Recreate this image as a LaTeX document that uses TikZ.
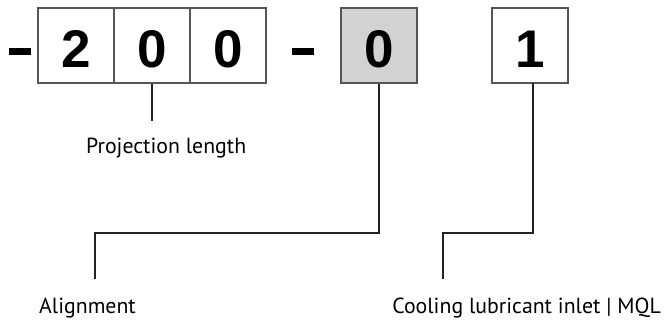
\documentclass[tikz,border=0pt]{standalone}
\usepackage{fontspec}
\setmainfont{PT Sans}
\newfontfamily\digitfont{Liberation Sans}
\definecolor{boxline}{HTML}{555555}
\definecolor{boxgray}{HTML}{D2D2D2}
\definecolor{conn}{HTML}{222222}
\begin{document}
\begin{tikzpicture}[x=1pt,y=-1pt,
  digitbox/.style={draw=boxline, line width=1.1pt, minimum width=76pt, minimum height=75pt,
    inner sep=0pt, text height=43pt, text depth=0pt, font=\digitfont\bfseries\fontsize{53}{53}\selectfont},
  graybox/.style={digitbox, fill=boxgray},
  dashbar/.style={fill=black, draw=none, minimum width=22pt, minimum height=7pt, inner sep=0pt},
  lbl/.style={anchor=base west, inner sep=0pt, font=\fontsize{21.8}{24}\selectfont},
  connector/.style={draw=conn, line width=1.2pt}]
\useasboundingbox (0,0) rectangle (664,325);
% dashes
\node[dashbar] (dashL) at (20,51.5) {};
\node[dashbar] (dashR) at (303,51.5) {};
% digit boxes
\node[digitbox] (d1) at (76,45.5) {2};
\node[digitbox] (d2) at (152,45.5) {0};
\node[digitbox] (d3) at (228,45.5) {0};
\node[graybox] (g) at (379,45.5) {0};
\node[digitbox] (b1) at (530,45.5) {1};
% labels
\node[lbl] (proj) at (86,153) {Projection length};
\node[lbl] (align) at (39,313) {Alignment};
\node[lbl, anchor=base east] (cool) at (661,313) {Cooling lubricant inlet | MQL};
% connector end points
\coordinate (pend) at (152,121);
\coordinate (a1) at (95,233);
\coordinate (a2) at (95,279);
\coordinate (c0) at (533,83);
\coordinate (c1) at (443,233);
\coordinate (c2) at (443,279);
% connectors
\draw[connector] (d2.south) -- (pend);
\draw[connector] (g.south) |- (a1) -- (a2);
\draw[connector] (c0) |- (c1) -- (c2);
\end{tikzpicture}
\end{document}
